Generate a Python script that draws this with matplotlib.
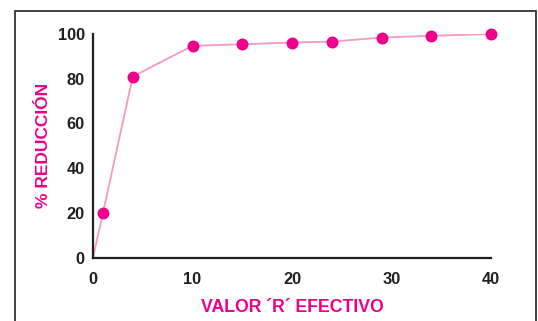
import matplotlib
matplotlib.use("Agg")
import matplotlib.pyplot as plt
from matplotlib.patches import Rectangle

r_efectivo = [0, 1, 4, 10, 15, 20, 24, 29, 34, 40]
reduccion = [0, 20, 81, 94.7, 95.4, 96.2, 96.6, 98.4, 99.2, 100]
x_ticks = [0, 10, 20, 30, 40]
y_ticks = [0, 20, 40, 60, 80, 100]

plt.rcParams['font.family'] = ['Liberation Sans', 'DejaVu Sans']
plt.rcParams['font.weight'] = 'bold'

magenta = "#ec008c"
pink = "#f49ac1"
dark = "#231f20"

fig = plt.figure(figsize=(5.38, 3.21), dpi=100)

# outer frame (runs off the bottom of the image)
frame = Rectangle((15 / 538, -0.05), 521 / 538, 1.05 - 11 / 321,
                  transform=fig.transFigure, fill=False,
                  edgecolor="#333333", linewidth=1.3)
fig.patches.append(frame)

ax = fig.add_axes([93 / 538, 1 - 257.7 / 321, 398 / 538, 223.7 / 321])
ax.plot(r_efectivo, reduccion, color=pink, linewidth=1.3, zorder=2)
ax.plot(r_efectivo[1:], reduccion[1:], linestyle="none", marker="o",
        markersize=8.6, color=magenta, markeredgewidth=0, zorder=3,
        clip_on=False)

ax.set_xlim(0, 40)
ax.set_ylim(0, 100)
ax.set_xticks(x_ticks)
ax.set_yticks(y_ticks)
ax.tick_params(length=0, labelsize=11.8, labelcolor=dark)
ax.tick_params(axis="x", pad=10)
ax.tick_params(axis="y", pad=6)
for lab in ax.get_xticklabels() + ax.get_yticklabels():
    lab.set_fontweight("bold")

ax.spines["top"].set_visible(False)
ax.spines["right"].set_visible(False)
for s in ("left", "bottom"):
    ax.spines[s].set_color(dark)
    ax.spines[s].set_linewidth(1.6)

ax.set_xlabel("VALOR \u00b4R\u00b4 EFECTIVO", color=magenta, fontsize=12.7,
              fontweight="bold", labelpad=9)
ax.set_ylabel("% REDUCCIÓN", color=magenta, fontsize=12.5,
              fontweight="bold", labelpad=5)

fig.savefig("out.png", dpi=100)
